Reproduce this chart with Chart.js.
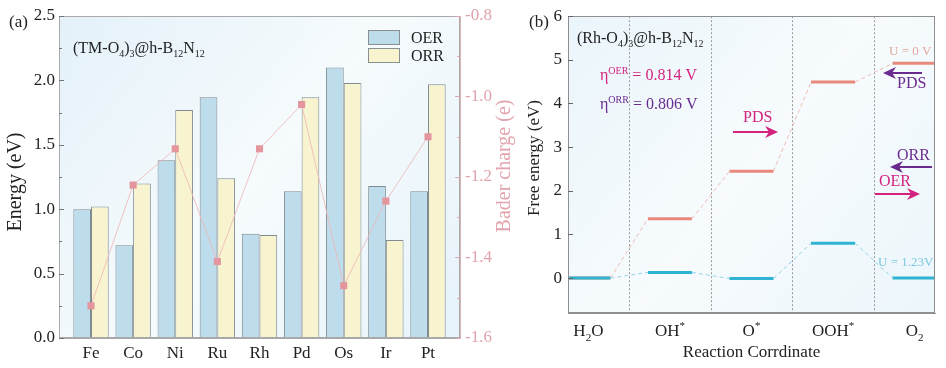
<!DOCTYPE html>
<html>
<head>
<meta charset="utf-8">
<script src="https://cdn.jsdelivr.net/npm/chart.js@4.4.0/dist/chart.umd.min.js"></script>
<style>
  html, body { margin: 0; padding: 0; background: #fff; }
  #wrap { position: relative; width: 946px; height: 368px; }
  #chartA { position: absolute; left: 0; top: 0; }
  #chartB { position: absolute; left: 520px; top: 0; }
</style>
</head>
<body>
<div id="wrap">
  <canvas id="chartA" width="520" height="368"></canvas>
  <canvas id="chartB" width="426" height="368"></canvas>
</div>
<script>
// panel (a) data
const metals = ['Fe', 'Co', 'Ni', 'Ru', 'Rh', 'Pd', 'Os', 'Ir', 'Pt'];
const oerEnergy = [1.00, 0.72, 1.38, 1.87, 0.81, 1.14, 2.10, 1.18, 1.14];
const orrEnergy = [1.02, 1.20, 1.77, 1.24, 0.80, 1.87, 1.98, 0.76, 1.97];
const baderCharge = [-1.52, -1.22, -1.13, -1.41, -1.13, -1.02, -1.47, -1.26, -1.10];

// panel (b) data
const steps = ['H2O', 'OH*', 'O*', 'OOH*', 'O2'];
const levelsU0 = [0, 1.36, 2.45, 4.49, 4.92];
const levelsU123 = [0, 0.13, -0.01, 0.80, 0];

const SERIF = "'Liberation Serif', 'Times New Roman', serif";
const halfW = 0.27;

// split "H2O" / "OOH*" style strings into normal / sub / sup pieces
function richParts(str) {
  const parts = [];
  for (const ch of str) {
    const kind = /[0-9]/.test(ch) ? 'sub' : (ch === '*' ? 'sup' : 'n');
    const last = parts[parts.length - 1];
    if (last && last.kind === kind) last.text += ch;
    else parts.push({ text: ch, kind: kind });
  }
  return parts;
}

function drawRich(ctx, parts, x, y, size, color, align) {
  const fontFor = k => (k === 'n' ? size : Math.round(size * 0.65)) + 'px ' + SERIF;
  let w = 0;
  parts.forEach(p => { ctx.font = fontFor(p.kind); p.w = ctx.measureText(p.text).width; w += p.w; });
  let cx = align === 'center' ? x - w / 2 : (align === 'right' ? x - w : x);
  ctx.save();
  ctx.fillStyle = color;
  ctx.textBaseline = 'alphabetic';
  ctx.textAlign = 'left';
  parts.forEach(p => {
    ctx.font = fontFor(p.kind);
    const dy = p.kind === 'sub' ? size * 0.28 : (p.kind === 'sup' ? -size * 0.4 : 0);
    ctx.fillText(p.text, cx, y + dy);
    cx += p.w;
  });
  ctx.restore();
}

function drawText(ctx, text, x, y, size, color, align) {
  ctx.save();
  ctx.font = size + 'px ' + SERIF;
  ctx.fillStyle = color;
  ctx.textAlign = align || 'left';
  ctx.textBaseline = 'alphabetic';
  ctx.fillText(text, x, y);
  ctx.restore();
}

function drawVertTitle(ctx, text, x, y, size, color) {
  ctx.save();
  ctx.translate(x, y);
  ctx.rotate(-Math.PI / 2);
  ctx.font = size + 'px ' + SERIF;
  ctx.fillStyle = color;
  ctx.textAlign = 'center';
  ctx.textBaseline = 'middle';
  ctx.fillText(text, 0, 0);
  ctx.restore();
}

function drawArrow(ctx, x1, x2, y, color) {
  const dir = x2 > x1 ? 1 : -1;
  ctx.save();
  ctx.strokeStyle = color;
  ctx.fillStyle = color;
  ctx.lineWidth = 2;
  ctx.beginPath();
  ctx.moveTo(x1, y);
  ctx.lineTo(x2 - dir * 6, y);
  ctx.stroke();
  ctx.beginPath();
  ctx.moveTo(x2, y);
  ctx.lineTo(x2 - dir * 13, y - 6);
  ctx.lineTo(x2 - dir * 9, y);
  ctx.lineTo(x2 - dir * 13, y + 6);
  ctx.closePath();
  ctx.fill();
  ctx.restore();
}

// tick marks pointing into the plot area
function innerTicks(chart, id, side, color) {
  const s = chart.scales[id], a = chart.chartArea, ctx = chart.ctx;
  const x0 = side === 'left' ? a.left : a.right;
  const dir = side === 'left' ? 1 : -1;
  ctx.save();
  ctx.strokeStyle = color;
  ctx.lineWidth = 1;
  s.ticks.forEach(t => {
    const y = Math.round(s.getPixelForValue(t.value)) + 0.5;
    const len = t.label === '' ? 3 : 5;
    ctx.beginPath();
    ctx.moveTo(x0, y);
    ctx.lineTo(x0 + dir * len, y);
    ctx.stroke();
  });
  ctx.restore();
}

function fillPlot(chart, c0, c1, c2) {
  const { ctx, chartArea: a } = chart;
  const g = ctx.createLinearGradient(a.left, a.top, a.right, a.bottom);
  g.addColorStop(0, c0);
  g.addColorStop(0.5, c1);
  g.addColorStop(1, c2);
  ctx.save();
  ctx.fillStyle = g;
  ctx.fillRect(a.left, a.top, a.right - a.left, a.bottom - a.top);
  ctx.restore();
}

function strokePlot(chart, color) {
  const { ctx, chartArea: a } = chart;
  ctx.save();
  ctx.strokeStyle = color;
  ctx.lineWidth = 1;
  ctx.strokeRect(Math.round(a.left) + 0.5, Math.round(a.top) + 0.5,
    Math.round(a.right - a.left) - 1, Math.round(a.bottom - a.top) - 1);
  ctx.restore();
}

const decorA = {
  id: 'decorA',
  beforeDraw(chart) { fillPlot(chart, '#e4f1f9', '#f6fbfd', '#e6f3fa'); },
  afterDraw(chart) {
    const ctx = chart.ctx, a = chart.chartArea;
    strokePlot(chart, '#a9a9a9');
    innerTicks(chart, 'y', 'left', '#777');
    innerTicks(chart, 'y2', 'right', '#dcaab0');
    drawText(ctx, '(a)', 9, 27, 17, '#222');
    drawRich(ctx, richParts('(TM-O4)3@h-B12N12'), 73, 53, 16, '#222', 'left');
    drawVertTitle(ctx, 'Energy (eV)', 16, 182, 20, '#222');
    drawVertTitle(ctx, 'Bader charge (e)', 505, 166, 20, '#e3a3ac');
    // legend inside the plot
    const items = [['OER', '#bddcec'], ['ORR', '#f8f4d0']];
    items.forEach((it, i) => {
      const y = 30 + i * 18;
      ctx.save();
      ctx.fillStyle = it[1];
      ctx.fillRect(368, y, 32, 15);
      ctx.strokeStyle = '#8a8f92';
      ctx.lineWidth = 1;
      ctx.strokeRect(368.5, y + 0.5, 31, 14);
      ctx.restore();
      drawText(ctx, it[0], 411, y + 13, 16, '#222');
    });
  }
};

new Chart(document.getElementById('chartA'), {
  type: 'bar',
  data: {
    datasets: [
      {
        type: 'line',
        label: 'Bader',
        data: metals.map((m, i) => ({ x: i, y: baderCharge[i] })),
        yAxisID: 'y2',
        borderColor: 'rgba(238,185,185,0.85)',
        borderWidth: 1,
        pointStyle: 'rect',
        pointRadius: 5,
        pointBackgroundColor: '#e4959d',
        pointBorderColor: '#e4959d',
        pointBorderWidth: 0,
        order: 0
      },
      {
        label: 'OER',
        data: metals.map((m, i) => ({ x: i, y: oerEnergy[i] })),
        yAxisID: 'y',
        backgroundColor: '#bddcec',
        borderColor: '#7f8b90',
        borderWidth: 1,
        categoryPercentage: 0.84,
        barPercentage: 1,
        order: 1
      },
      {
        label: 'ORR',
        data: metals.map((m, i) => ({ x: i, y: orrEnergy[i] })),
        yAxisID: 'y',
        backgroundColor: '#f8f4d0',
        borderColor: '#7f8b90',
        borderWidth: 1,
        categoryPercentage: 0.84,
        barPercentage: 1,
        order: 1
      }
    ]
  },
  options: {
    responsive: false,
    animation: false,
    devicePixelRatio: 1,
    layout: { padding: { top: 16, left: 0, right: 0, bottom: 0 } },
    plugins: { legend: { display: false }, tooltip: { enabled: false } },
    scales: {
      x: {
        type: 'linear',
        min: -0.76,
        max: 8.76,
        offset: false,
        afterFit: s => { s.height = 30; },
        grid: { display: false, drawTicks: false },
        border: { display: true, color: '#a9a9a9' },
        ticks: {
          stepSize: 1,
          includeBounds: false,
          padding: 5,
          color: '#222',
          font: { family: SERIF, size: 17 },
          callback: v => (Number.isInteger(v) && metals[v] !== undefined) ? metals[v] : null
        }
      },
      y: {
        position: 'left',
        min: 0,
        max: 2.5,
        afterFit: s => { s.width = 59; },
        grid: { display: false, drawTicks: false },
        border: { display: true, color: '#a9a9a9' },
        ticks: {
          stepSize: 0.25,
          padding: 4,
          color: '#222',
          font: { family: SERIF, size: 17 },
          callback: v => (Math.round(v * 100) % 50 === 0) ? v.toFixed(1) : ''
        }
      },
      y2: {
        position: 'right',
        min: -1.6,
        max: -0.8,
        afterFit: s => { s.width = 60; },
        grid: { display: false, drawTicks: false },
        border: { display: true, color: '#dcb4b8' },
        ticks: {
          stepSize: 0.1,
          padding: 5,
          color: '#e0a4ac',
          font: { family: SERIF, size: 17 },
          callback: v => (Math.round(v * 10) % 2 === 0) ? v.toFixed(1) : ''
        }
      }
    }
  },
  plugins: [decorA]
});

// ---------- panel (b) ----------
function levelPoints(levels) {
  const pts = [];
  levels.forEach((v, i) => {
    pts.push({ x: i - halfW, y: v }, { x: i + halfW, y: v });
  });
  return pts;
}

function levelDataset(levels, color, faint) {
  return {
    data: levelPoints(levels),
    borderColor: color,
    borderWidth: 3,
    borderCapStyle: 'butt',
    pointRadius: 0,
    segment: {
      borderDash: c => (c.p0DataIndex % 2 ? [4, 3] : undefined),
      borderWidth: c => (c.p0DataIndex % 2 ? 1 : 3),
      borderColor: c => (c.p0DataIndex % 2 ? faint : undefined)
    }
  };
}

const decorB = {
  id: 'decorB',
  beforeDraw(chart) { fillPlot(chart, '#eaf5fb', '#f7fbfd', '#ecf6fb'); },
  beforeDatasetsDraw(chart) {
    const ctx = chart.ctx, a = chart.chartArea, sx = chart.scales.x;
    ctx.save();
    ctx.strokeStyle = '#9a9a9a';
    ctx.lineWidth = 1;
    ctx.setLineDash([2, 2]);
    for (let i = 0; i < steps.length - 1; i++) {
      const x = Math.round(sx.getPixelForValue(i + 0.5)) + 0.5;
      ctx.beginPath();
      ctx.moveTo(x, a.top);
      ctx.lineTo(x, a.bottom);
      ctx.stroke();
    }
    ctx.restore();
  },
  afterDraw(chart) {
    const ctx = chart.ctx, a = chart.chartArea, sx = chart.scales.x;
    strokePlot(chart, '#8f8f8f');
    innerTicks(chart, 'y', 'left', '#666');
    steps.forEach((s, i) => {
      drawRich(ctx, richParts(s), sx.getPixelForValue(i), 336, 17, '#222', 'center');
    });
    drawText(ctx, 'Reaction Corrdinate', (a.left + a.right) / 2, 357, 17, '#222', 'center');
    drawVertTitle(ctx, 'Free energy (eV)', 15, 158, 17, '#222');
    drawText(ctx, '(b)', 9, 27, 17, '#222');
    drawRich(ctx, richParts('(Rh-O4)3@h-B12N12'), 57, 43, 16, '#222', 'left');

    const magenta = '#d3237f', purple = '#6a2b8f';
    drawRich(ctx, [{ text: 'η', kind: 'n' }, { text: 'OER', kind: 'sup' }, { text: ' = 0.814 V', kind: 'n' }], 80, 80, 16, magenta, 'left');
    drawRich(ctx, [{ text: 'η', kind: 'n' }, { text: 'ORR', kind: 'sup' }, { text: ' = 0.806 V', kind: 'n' }], 80, 109, 16, purple, 'left');

    drawText(ctx, 'PDS', 223, 122, 16, magenta);
    drawArrow(ctx, 213, 258, 132, magenta);

    drawText(ctx, 'U = 0 V', 369, 55, 13, '#e3a89e');
    drawArrow(ctx, 402, 363, 73, purple);
    drawText(ctx, 'PDS', 377, 88, 16, purple);

    drawText(ctx, 'ORR', 377, 160, 16, purple);
    drawArrow(ctx, 412, 370, 167, purple);
    drawText(ctx, 'OER', 359, 186, 16, magenta);
    drawArrow(ctx, 355, 400, 194, magenta);

    drawText(ctx, 'U = 1.23V', 358, 266, 13, '#7cc8e0');
  }
};

new Chart(document.getElementById('chartB'), {
  type: 'line',
  data: {
    datasets: [
      levelDataset(levelsU123, '#2fb3d2', 'rgba(140,205,228,0.9)'),
      levelDataset(levelsU0, '#e8897b', 'rgba(238,175,165,0.85)')
    ]
  },
  options: {
    responsive: false,
    animation: false,
    devicePixelRatio: 1,
    layout: { padding: { top: 16, left: 0, right: 11, bottom: 0 } },
    plugins: { legend: { display: false }, tooltip: { enabled: false } },
    scales: {
      x: {
        type: 'linear',
        min: -0.25,
        max: 4.25,
        afterFit: s => { s.height = 55; },
        grid: { display: false, drawTicks: false },
        border: { display: true, color: '#8f8f8f' },
        ticks: { display: false }
      },
      y: {
        min: -0.8,
        max: 6,
        afterFit: s => { s.width = 48; },
        grid: { display: false, drawTicks: false },
        border: { display: true, color: '#8f8f8f' },
        ticks: {
          stepSize: 1,
          padding: 6,
          color: '#222',
          font: { family: SERIF, size: 17 },
          callback: v => (Number.isInteger(v) ? String(v) : null)
        }
      }
    }
  },
  plugins: [decorB]
});
</script>
</body>
</html>
